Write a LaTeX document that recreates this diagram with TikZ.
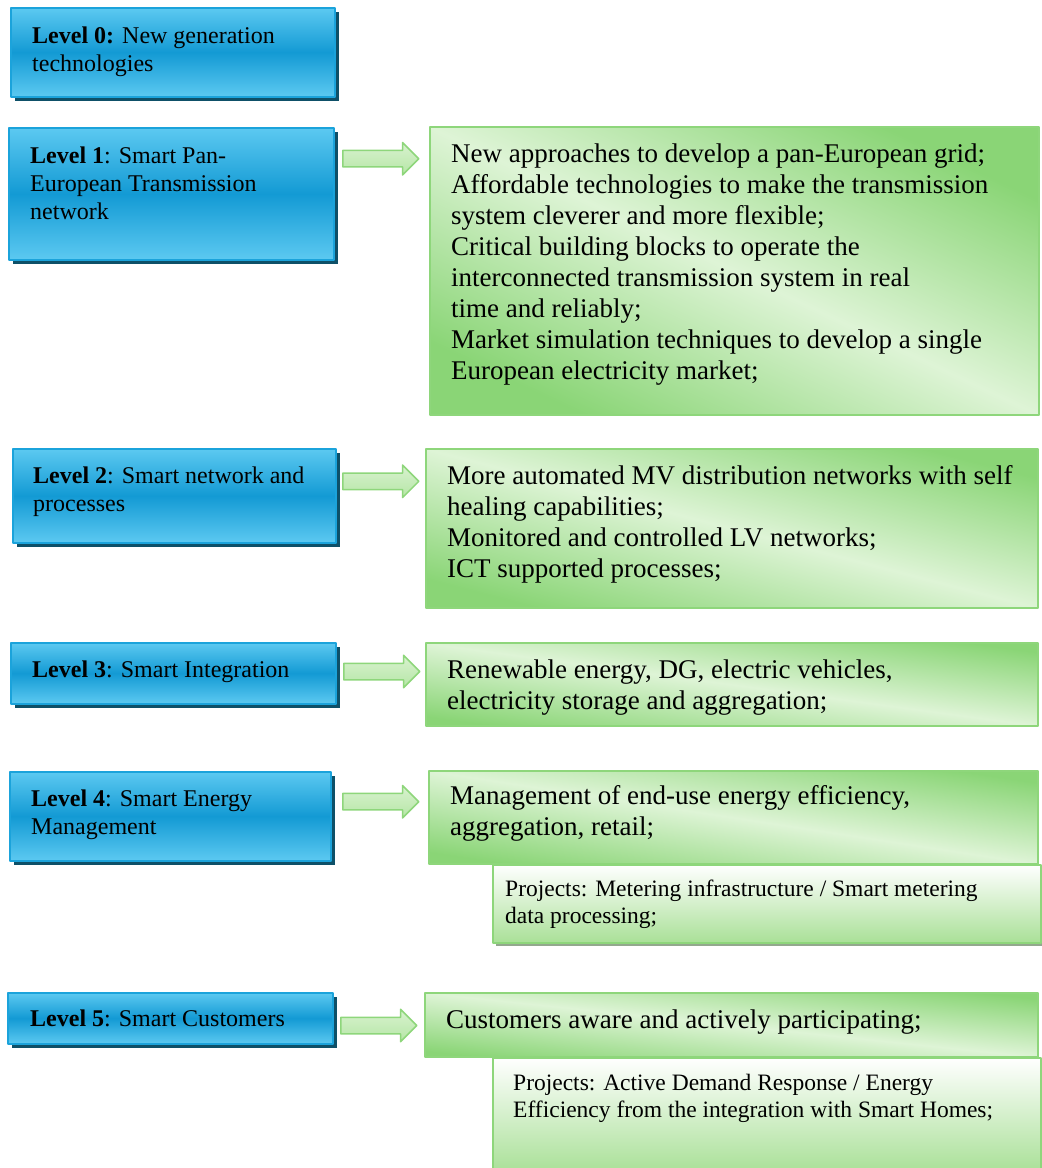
\documentclass[tikz,border=0pt]{standalone}
\usepackage{fontspec}
\setmainfont{Liberation Serif}
\usetikzlibrary{shadows,shapes.arrows}
\definecolor{bluelight}{HTML}{5CC9F1}
\definecolor{bluedark}{HTML}{139AD4}
\definecolor{blueline}{HTML}{1BA3DB}
\definecolor{blueshadow}{HTML}{0E5068}
\definecolor{greenlight}{HTML}{DEF4D6}
\definecolor{greendark}{HTML}{8AD576}
\definecolor{greenline}{HTML}{8ED67B}
\definecolor{projgreen}{HTML}{A9E097}
\definecolor{projshadow}{HTML}{93A88E}
\definecolor{arrowlight}{HTML}{D8F2CF}
\definecolor{arrowmid}{HTML}{B6E6A6}
\newcommand{\txtlines}[1]{\begin{tabular}[t]{@{}l@{}}#1\end{tabular}}

\begin{document}
\begin{tikzpicture}[line cap=round,line join=round,x=1.0pt,y=1.0pt,
	bluebox/.style={draw=blueline,line width=1.5pt,top color=bluelight,bottom color=bluelight,middle color=bluedark,
		anchor=north west,inner sep=0pt,drop shadow={shadow xshift=4pt,shadow yshift=-4pt,fill=blueshadow,opacity=1}},
	greenbox/.style={draw=greenline,line width=2pt,top color=greendark,bottom color=greendark,middle color=greenlight,
		shading angle=#1,anchor=north west,inner sep=0pt},
	projbox/.style={draw=greenline,line width=2pt,top color=white,bottom color=projgreen,anchor=north west,inner sep=0pt},
	blockarr/.style={single arrow,draw=greenline,line width=1.5pt,top color=arrowlight,bottom color=arrowmid,
		minimum height=76pt,inner xsep=0pt,inner ysep=7.5pt,single arrow head extend=8pt,single arrow tip angle=90,anchor=tail},
	levtxt/.style={anchor=base west,inner sep=0pt,font=\fontsize{24}{28}\selectfont},
	itemtxt/.style={anchor=base west,inner sep=0pt,font=\fontsize{27}{31}\selectfont},
	projtxt/.style={anchor=base west,inner sep=0pt,font=\fontsize{23.5}{27}\selectfont}]
	\useasboundingbox (0,0) rectangle (1042,-1168);
	% level boxes
	\node[bluebox,minimum width=324pt,minimum height=89pt] (b0) at (10,-7) {};
	\node[bluebox,minimum width=325pt,minimum height=132pt] (b1) at (8,-127) {};
	\node[bluebox,minimum width=323pt,minimum height=94pt] (b2) at (12,-448) {};
	\node[bluebox,minimum width=325pt,minimum height=61pt] (b3) at (10,-642) {};
	\node[bluebox,minimum width=321pt,minimum height=89pt] (b4) at (9,-771) {};
	\node[bluebox,minimum width=325pt,minimum height=51pt] (b5) at (7,-992) {};
	\node[levtxt] (lv0) at ([xshift=22pt,yshift=-36pt]b0.north west) {\txtlines{\textbf{Level 0:} New generation\\technologies}};
	\node[levtxt] (lv1) at ([xshift=22pt,yshift=-36pt]b1.north west) {\txtlines{\textbf{Level 1}: Smart Pan-\\European Transmission\\network}};
	\node[levtxt] (lv2) at ([xshift=21pt,yshift=-35pt]b2.north west) {\txtlines{\textbf{Level 2}: Smart network and\\processes}};
	\node[levtxt] (lv3) at ([xshift=22pt,yshift=-35pt]b3.north west) {\textbf{Level 3}: Smart Integration};
	\node[levtxt] (lv4) at ([xshift=22pt,yshift=-35pt]b4.north west) {\txtlines{\textbf{Level 4}: Smart Energy\\Management}};
	\node[levtxt] (lv5) at ([xshift=23pt,yshift=-34pt]b5.north west) {\textbf{Level 5}: Smart Customers};
	% arrows
	\node[blockarr] (arr1) at (342,-158.7) {};
	\node[blockarr] (arr2) at (342,-481.3) {};
	\node[blockarr] (arr3) at (343,-671.5) {};
	\node[blockarr] (arr4) at (342,-801.7) {};
	\node[blockarr] (arr5) at (340,-1025.5) {};
	% description boxes
	\node[greenbox=-25.3,minimum width=609pt,minimum height=288pt] (g1) at (429,-126) {};
	\node[greenbox=-14.6,minimum width=612pt,minimum height=159pt] (g2) at (425,-448) {};
	\node[greenbox=-7.7,minimum width=612pt,minimum height=83pt] (g3) at (425,-642) {};
	\node[greenbox=-8.7,minimum width=609pt,minimum height=93pt] (g4) at (428,-770) {};
	\node[projbox,minimum width=548pt,minimum height=78pt,drop shadow={shadow xshift=3pt,shadow yshift=-3pt,fill=projshadow,opacity=1}] (p4) at (492,-864) {};
	\node[greenbox=-6,minimum width=613pt,minimum height=64pt] (g5) at (424,-992) {};
	\node[projbox,minimum width=548pt,minimum height=115pt] (p5) at (492,-1057) {};
	\node[itemtxt] (gt1) at ([xshift=22pt,yshift=-36pt]g1.north west) {\txtlines{New approaches to develop a pan-European grid;\\
		Affordable technologies to make the transmission\\system cleverer and more flexible;\\
		Critical building blocks to operate the\\interconnected transmission system in real\\time and reliably;\\
		Market simulation techniques to develop a single\\European electricity market;}};
	\node[itemtxt] (gt2) at ([xshift=22pt,yshift=-36pt]g2.north west) {\txtlines{More automated MV distribution networks with self\\healing capabilities;\\
		Monitored and controlled LV networks;\\ICT supported processes;}};
	\node[itemtxt] (gt3) at ([xshift=22pt,yshift=-36pt]g3.north west) {\txtlines{Renewable energy, DG, electric vehicles,\\electricity storage and aggregation;}};
	\node[itemtxt] (gt4) at ([xshift=22pt,yshift=-34pt]g4.north west) {\txtlines{Management of end-use energy efficiency,\\aggregation, retail;}};
	\node[projtxt] (pt4) at ([xshift=13pt,yshift=-32pt]p4.north west) {\txtlines{Projects: Metering infrastructure / Smart metering\\data processing;}};
	\node[itemtxt] (gt5) at ([xshift=22pt,yshift=-36pt]g5.north west) {Customers aware and actively participating;};
	\node[projtxt] (pt5) at ([xshift=21pt,yshift=-33pt]p5.north west) {\txtlines{Projects: Active Demand Response / Energy\\Efficiency from the integration with Smart Homes;}};
\end{tikzpicture}
\end{document}
